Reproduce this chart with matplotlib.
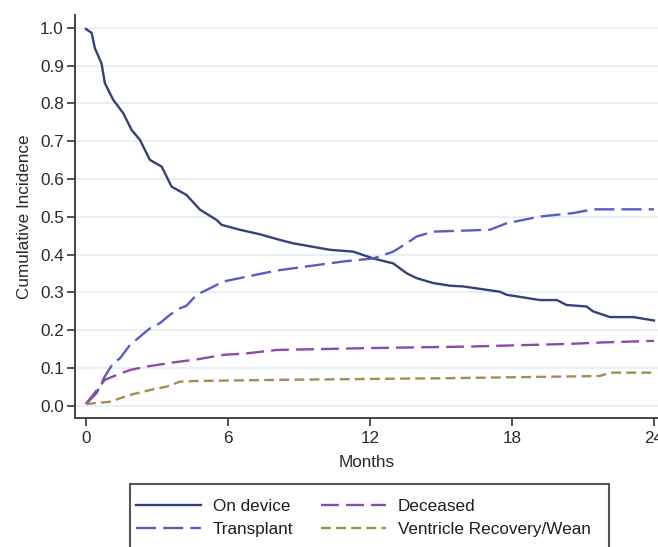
import matplotlib
matplotlib.use('Agg')
import matplotlib.pyplot as plt
from matplotlib.patches import Rectangle

plt.rcParams['font.family'] = ['Liberation Sans', 'DejaVu Sans']

# Months / cumulative incidence
on_device_t = [0, 0.24, 0.38, 0.66, 0.8, 1.15, 1.58, 1.93, 2.28, 2.7, 3.2, 3.62, 4.25, 4.82,
               5.52, 5.73, 6.5, 7.35, 8.2, 8.76, 10.3, 11.3, 12.14, 12.98, 13.55, 13.97,
               14.67, 15.38, 15.94, 17.49, 17.77, 19.18, 19.9, 20.3, 21.15, 21.43, 22.14,
               23.12, 24]
on_device_y = [0.997, 0.987, 0.946, 0.906, 0.854, 0.81, 0.774, 0.73, 0.704, 0.651, 0.633,
               0.58, 0.558, 0.519, 0.492, 0.479, 0.466, 0.454, 0.439, 0.43, 0.413, 0.408,
               0.39, 0.377, 0.351, 0.338, 0.325, 0.318, 0.316, 0.302, 0.294, 0.28, 0.28,
               0.267, 0.263, 0.25, 0.235, 0.235, 0.226]

transplant_t = [0, 0.45, 0.8, 1.15, 1.44, 1.86, 2.28, 2.7, 3.13, 3.55, 3.97, 4.25, 4.68,
                5.24, 5.8, 6.5, 7.35, 8.06, 8.76, 10.87, 12.14, 12.98, 13.55, 13.97, 14.67,
                15.66, 17.07, 17.77, 19.18, 20.59, 21.43, 24]
transplant_y = [0.005, 0.034, 0.078, 0.113, 0.126, 0.161, 0.183, 0.205, 0.219, 0.241, 0.258,
                0.265, 0.294, 0.311, 0.329, 0.338, 0.349, 0.358, 0.364, 0.382, 0.39, 0.408,
                0.43, 0.448, 0.461, 0.463, 0.466, 0.483, 0.501, 0.51, 0.52, 0.52]

deceased_t = [0, 0.8, 1.15, 1.86, 2.56, 3.69, 4.68, 5.8, 6.79, 8.06, 12, 16.2, 20.4, 21.86, 24]
deceased_y = [0.005, 0.069, 0.078, 0.095, 0.104, 0.115, 0.123, 0.135, 0.139, 0.148, 0.153,
              0.157, 0.164, 0.168, 0.172]

recovery_t = [0, 1.01, 1.86, 2.84, 3.41, 3.97, 4.68, 8.2, 14.8, 21.7, 22.14, 24]
recovery_y = [0.005, 0.011, 0.029, 0.044, 0.051, 0.064, 0.066, 0.069, 0.073, 0.079, 0.088, 0.088]

x_ticks = [0, 6, 12, 18, 24]
y_ticks = [i / 10 for i in range(11)]

fs = 12.3
fig = plt.figure(figsize=(6.58, 5.47), dpi=100)
ax = fig.add_axes([0.114, 0.2358, 0.886, 0.7368])

lw = 1.7
ax.plot(on_device_t, on_device_y, color='#34417a', lw=lw, label='On device')
ax.plot(transplant_t, transplant_y, color='#5a5cc4', lw=lw, dashes=(8.5, 3), label='Transplant')
ax.plot(deceased_t, deceased_y, color='#8e49ad', lw=lw, dashes=(7.6, 3), label='Deceased')
ax.plot(recovery_t, recovery_y, color='#a48e4e', lw=lw, dashes=(4.2, 2.2),
        label='Ventricle Recovery/Wean')

ax.set_xlim(-0.46, 24.17)
ax.set_ylim(-0.032, 1.034)
ax.set_xticks(x_ticks)
ax.set_yticks(y_ticks)
ax.set_yticklabels(['%.1f' % v for v in y_ticks])
ax.yaxis.grid(True, color='#e3edf2', lw=1.2)
ax.set_axisbelow(True)
for s in ['top', 'right']:
    ax.spines[s].set_visible(False)
for s in ['left', 'bottom']:
    ax.spines[s].set_color('#444444')
    ax.spines[s].set_linewidth(1.4)
ax.tick_params(colors='#444444', labelcolor='#2a2a2a', labelsize=fs, length=6, width=1.3)
ax.tick_params(axis='y', pad=2)
ax.tick_params(axis='x', pad=3)
ax.set_xlabel('Months', fontsize=fs, color='#2a2a2a', labelpad=7)
ax.set_ylabel('Cumulative Incidence', fontsize=fs, color='#2a2a2a', labelpad=6)

# legend box, cut off by the bottom of the image
fig.patches.append(Rectangle((130 / 658, -0.05), 479 / 658, 1 - 484 / 547 + 0.05,
                             transform=fig.transFigure, fill=False,
                             edgecolor='#555555', lw=1.5))
h, l = ax.get_legend_handles_labels()
fig.legend([h[0], h[1], h[2], h[3]], [l[0], l[1], l[2], l[3]], ncol=2, frameon=False,
           loc='upper left', bbox_to_anchor=(136 / 658, 1 - 499 / 547),
           borderpad=0, borderaxespad=0, handlelength=3.8, handletextpad=0.7,
           columnspacing=1.6, labelspacing=0.45, fontsize=fs, labelcolor='#1e1e1e')

plt.savefig('out.png', dpi=100)
